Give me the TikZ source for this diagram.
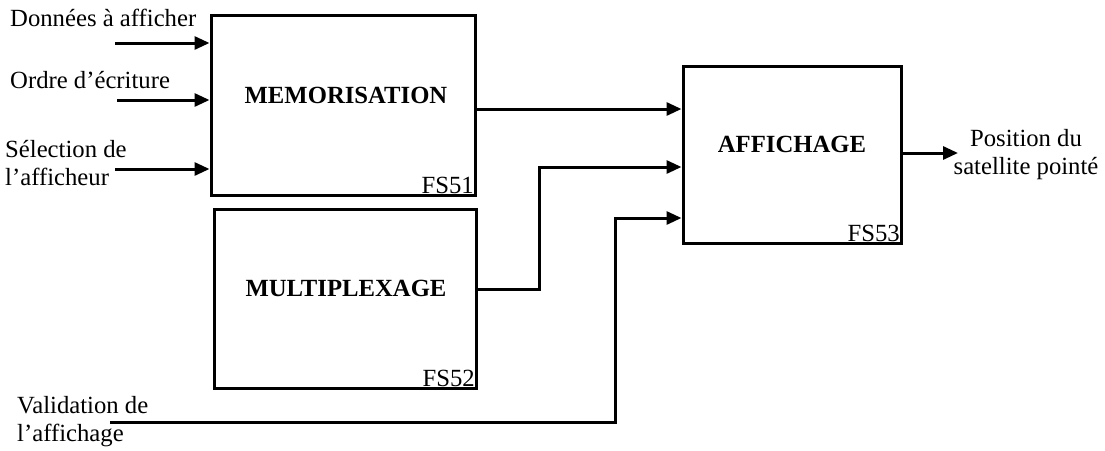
\documentclass[tikz,border=0pt]{standalone}
\usepackage{fontspec}
\setmainfont{Liberation Serif}
\usetikzlibrary{positioning, arrows.meta, calc}

\begin{document}
\begin{tikzpicture}[
  x=1pt, y=-1pt,
  font=\fontsize{24.7}{27.5}\selectfont, >=Triangle,
  fbox/.style ={draw=black, line width=3pt, inner sep=0pt},
  title/.style={font=\fontsize{24.7}{27.5}\selectfont\bfseries, anchor=base, inner sep=0pt},
  fs/.style   ={anchor=south east, inner sep=2.5pt},
  lbl/.style  ={anchor=base west, inner sep=0pt, align=left},
  flow/.style ={-{Triangle[length=15pt, width=13pt]}, line width=3pt},
]
\useasboundingbox (0,0) rectangle (1105,450);

% ---------- function blocks ----------
\node[fbox, minimum width=264pt, minimum height=180pt] (mem) at (343,105) {};
\node[title] (memt) at (346,103) {MEMORISATION};
\node[fs] (fs51) at (mem.south east) {FS51};

\node[fbox, minimum width=262pt, minimum height=179pt] (mux) at (345,298.5) {};
\node[title] (muxt) at (346,296) {MULTIPLEXAGE};
\node[fs] (fs52) at (mux.south east) {FS52};

\node[fbox, minimum width=218pt, minimum height=177pt] (aff) at (792,154.5) {};
\node[title] (afft) at (792,152) {AFFICHAGE};
\node[fs] (fs53) at (aff.south east) {FS53};

% ---------- input labels ----------
\node[lbl] (data)  at (10,26)  {Données à afficher};
\node[lbl] (order) at (10,88)  {Ordre d’écriture};
\node[lbl] (sel)   at (5,185)  {Sélection de\\l’afficheur};
\node[lbl] (valid) at (17,441) {Validation de\\l’affichage};
\node[align=center, anchor=base, inner sep=0pt] (posn) at (1026,174) {Position du\\satellite pointé};

% ---------- flows ----------
\coordinate (in1) at (115,43);
\coordinate (in2) at (117,100);
\coordinate (in3) at (115,169);
\draw[flow] (in1) -- (in1 -| mem.west);
\draw[flow] (in2) -- (in2 -| mem.west);
\draw[flow] (in3) -- (in3 -| mem.west);

\draw[flow] (mem.east |- 0,109) -- (aff.west |- 0,109);

\coordinate (bend1) at (539,167);
\draw[flow] (mux.east |- 0,289) -| (bend1) -- (bend1 -| aff.west);

\coordinate (in4)   at (110,422);
\coordinate (bend2) at (615,218);
\draw[flow] (in4) -| (bend2) -- (bend2 -| aff.west);

\coordinate (out) at (958,153);
\draw[flow] (aff.east |- out) -- (out);

\end{tikzpicture}
\end{document}
